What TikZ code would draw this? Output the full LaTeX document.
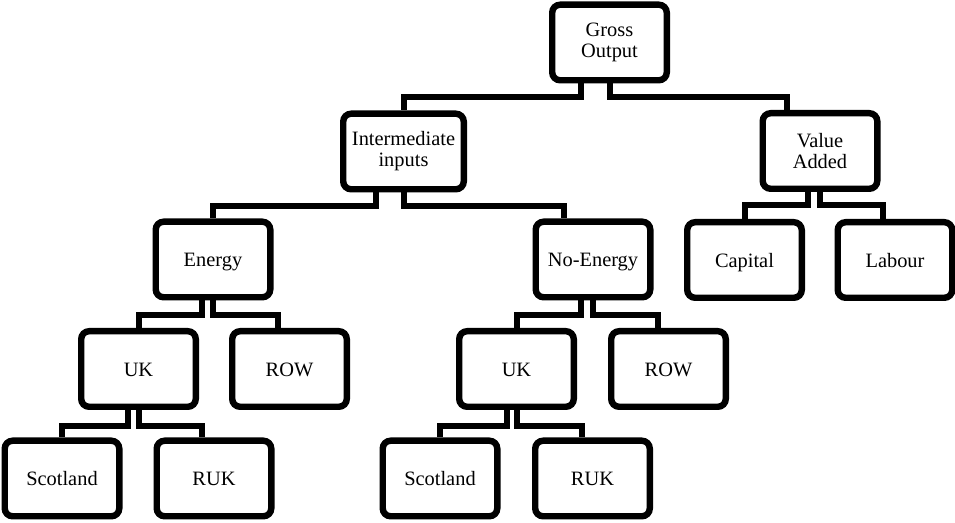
\documentclass[tikz,border=0pt]{standalone}
\usepackage{fontspec}
\setmainfont{Liberation Serif}
\tikzset{
  box/.style={draw, line width=3.2pt, rounded corners=4pt, minimum width=57.3pt, minimum height=37.8pt, align=center, inner sep=2pt, font=\fontsize{10.2}{10.5}\selectfont},
  leaf/.style={box, text height=1.8ex, text depth=.2ex},
  link/.style={line width=3pt}
}
\begin{document}
\begin{tikzpicture}[x=0.5pt,y=-0.5pt]
            \useasboundingbox (0,0) rectangle (955,523);
            \node[box] (GO) at (609.5,42.5) {Gross\\Output};
            \node[box, minimum width=60.3pt] (II) at (403.5,151.5) {Intermediate\\inputs};
            \node[box] (VA) at (820,151) {Value\\Added};
            \node[leaf] (En) at (213,259.5) {Energy};
            \node[leaf] (NE) at (593,259.5) {No-Energy};
            \node[leaf] (Ca) at (744.5,260) {Capital};
            \node[leaf] (La) at (895,260) {Labour};
            \node[leaf] (UK1) at (138.5,369) {UK};
            \node[leaf] (ROW1) at (289.5,369) {ROW};
            \node[leaf] (UK2) at (516.5,369) {UK};
            \node[leaf] (ROW2) at (668.5,369) {ROW};
            \node[leaf] (Sc1) at (62,478.5) {Scotland};
            \node[leaf] (RUK1) at (214,478.5) {RUK};
            \node[leaf] (Sc2) at (440,478.5) {Scotland};
            \node[leaf] (RUK2) at (592.5,478.5) {RUK};

            \draw[link] ([xshift=-14.5pt]GO.south) -- ++(0,14) -| (II.north); \draw[link] (GO.south) -- ++(0,14) -| ([xshift=-16.5pt]VA.north);
            \draw[link] ([xshift=-14pt]II.south) -- ++(0,14) -| (En.north); \draw[link] (II.south) -- ++(0,14) -| ([xshift=-14.5pt]NE.north);
            \draw[link] ([xshift=-6pt]VA.south) -- ++(0,13) -| (Ca.north); \draw[link] (VA.south) -- ++(0,13) -| ([xshift=-6pt]La.north);
            \draw[link] ([xshift=-5.5pt]En.south) -- ++(0,15) -| (UK1.north); \draw[link] (En.south) -- ++(0,15) -| ([xshift=-6pt]ROW1.north);
            \draw[link] ([xshift=-6pt]NE.south) -- ++(0,15) -| (UK2.north); \draw[link] (NE.south) -- ++(0,15) -| ([xshift=-5.5pt]ROW2.north);
            \draw[link] ([xshift=-5.5pt]UK1.south) -- ++(0,16) -| (Sc1.north); \draw[link] (UK1.south) -- ++(0,16) -| ([xshift=-6pt]RUK1.north);
            \draw[link] ([xshift=-5pt]UK2.south) -- ++(0,16) -| (Sc2.north); \draw[link] (UK2.south) -- ++(0,16) -| ([xshift=-5.5pt]RUK2.north);
        \end{tikzpicture}
\end{document}
